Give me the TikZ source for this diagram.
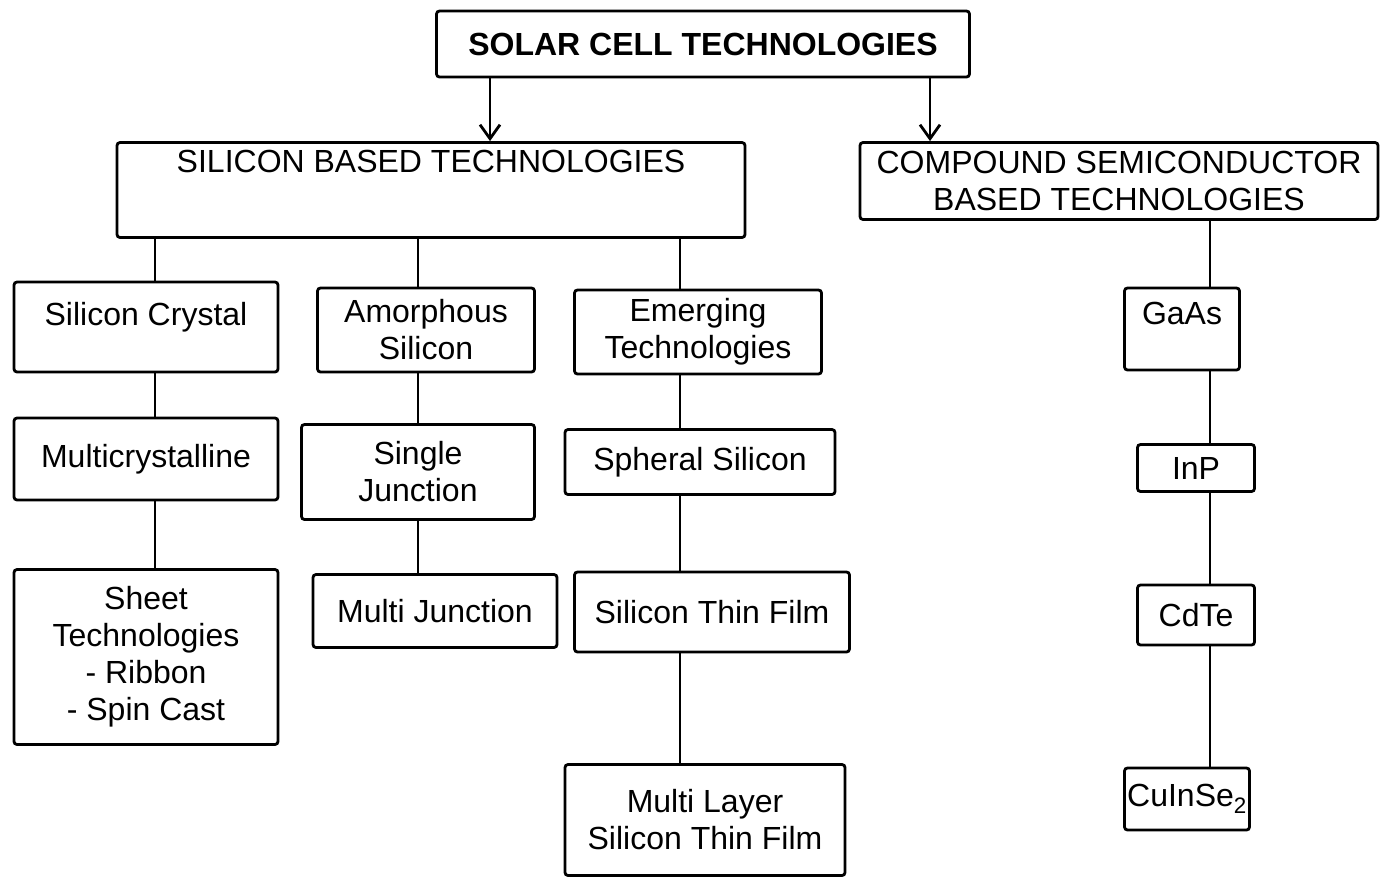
\documentclass[tikz,border=0pt]{standalone}
\usepackage{fontspec}
\setmainfont{Liberation Sans}
\usetikzlibrary{arrows.meta}
\tikzset{
  tech/.style={draw,rectangle,rounded corners=3pt,line width=2.8pt,align=center,inner sep=0pt,
    font=\fontsize{32}{37}\selectfont},
  head/.style={tech,font=\fontsize{32}{37}\selectfont\bfseries},
  link/.style={line width=2.8pt},
  feed/.style={-{Straight Barb[length=14pt,width=20pt]},line width=2.8pt}
}

\begin{document}
\begin{tikzpicture}[x=1pt,y=-1pt]
\useasboundingbox (0,0) rectangle (1394,879);

% trunk positions
\coordinate (a1) at (490,0);
\coordinate (a2) at (930,0);
\coordinate (s1) at (155,0);
\coordinate (s2) at (418,0);
\coordinate (s3) at (680,0);
\coordinate (c1) at (1210,0);

\node[head,minimum width=533pt,minimum height=66pt] (solar) at (703,44) {SOLAR CELL TECHNOLOGIES};

\node[tech,minimum width=628pt,minimum height=95pt,text depth=57pt] (silicon) at (431,190) {SILICON BASED TECHNOLOGIES};
\node[tech,minimum width=518pt,minimum height=77pt] (compound) at (1119,181) {COMPOUND SEMICONDUCTOR\\BASED TECHNOLOGIES};

\node[tech,minimum width=264pt,minimum height=90pt,text depth=27pt] (crystal) at (146,327) {Silicon Crystal};
\node[tech,minimum width=264pt,minimum height=82pt] (multi) at (146,459) {Multicrystalline};
\node[tech,minimum width=264pt,minimum height=175pt] (sheet) at (146,657) {Sheet\\Technologies\\- Ribbon\\- Spin Cast};

\node[tech,minimum width=217pt,minimum height=84pt] (amorph) at (426,330) {Amorphous\\Silicon};
\node[tech,minimum width=233pt,minimum height=95pt] (single) at (418,472) {Single\\Junction};
\node[tech,minimum width=244pt,minimum height=73pt] (mjunc) at (435,611) {Multi Junction};

\node[tech,minimum width=247pt,minimum height=84pt] (emerg) at (698,332) {Emerging\\Technologies};
\node[tech,minimum width=270pt,minimum height=65pt] (spheral) at (700,462) {Spheral Silicon};
\node[tech,minimum width=275pt,minimum height=80pt] (thin) at (712,612) {Silicon Thin Film};
\node[tech,minimum width=280pt,minimum height=111pt] (layer) at (705,820) {Multi Layer\\Silicon Thin Film};

\node[tech,minimum width=115pt,minimum height=82pt,text depth=32pt] (gaas) at (1182,329) {GaAs};
\node[tech,minimum width=117pt,minimum height=47pt] (inp) at (1196,468) {InP};
\node[tech,minimum width=117pt,minimum height=60pt] (cdte) at (1196,615) {CdTe};
\node[tech,minimum width=125pt,minimum height=62pt] (cuinse) at (1187,799) {CuInSe\textsubscript{2}};

\draw[feed] (solar.south -| a1) -- (silicon.north -| a1);
\draw[feed] (solar.south -| a2) -- (compound.north -| a2);

\draw[link] (silicon.south -| s1) -- (crystal.north -| s1);
\draw[link] (crystal.south -| s1) -- (multi.north -| s1);
\draw[link] (multi.south -| s1) -- (sheet.north -| s1);

\draw[link] (silicon.south -| s2) -- (amorph.north -| s2);
\draw[link] (amorph.south -| s2) -- (single.north -| s2);
\draw[link] (single.south -| s2) -- (mjunc.north -| s2);

\draw[link] (silicon.south -| s3) -- (emerg.north -| s3);
\draw[link] (emerg.south -| s3) -- (spheral.north -| s3);
\draw[link] (spheral.south -| s3) -- (thin.north -| s3);
\draw[link] (thin.south -| s3) -- (layer.north -| s3);

\draw[link] (compound.south -| c1) -- (gaas.north -| c1);
\draw[link] (gaas.south -| c1) -- (inp.north -| c1);
\draw[link] (inp.south -| c1) -- (cdte.north -| c1);
\draw[link] (cdte.south -| c1) -- (cuinse.north -| c1);

\end{tikzpicture}
\end{document}
